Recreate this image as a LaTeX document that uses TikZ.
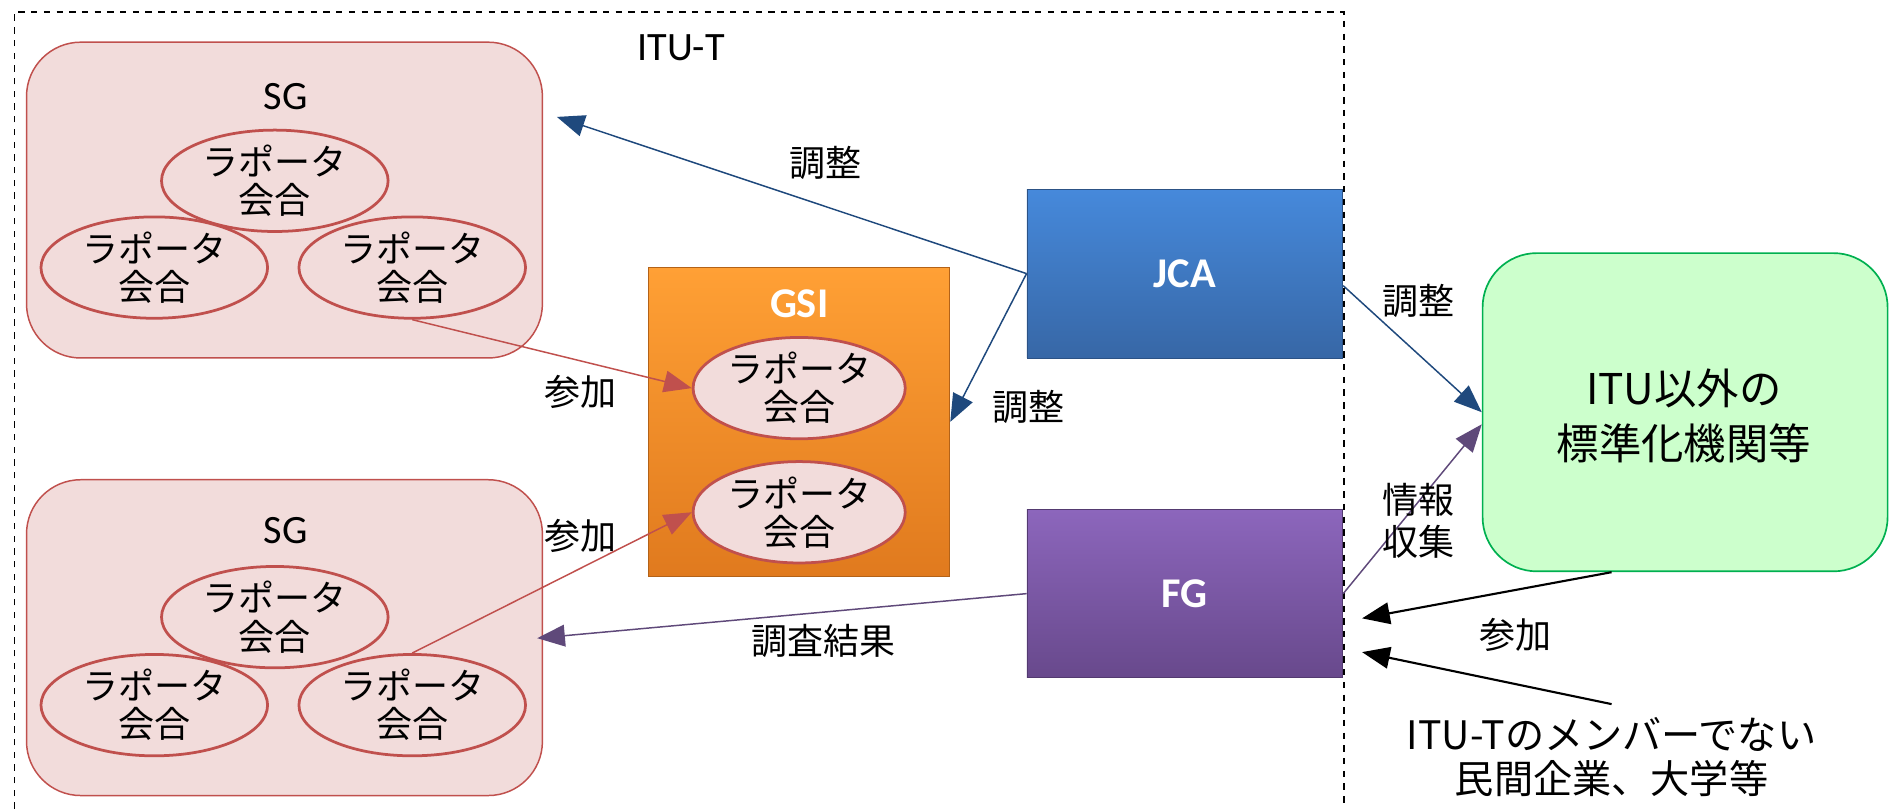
\documentclass[tikz,border=0pt]{standalone}
\usepackage{fontspec}
\setmainfont{Carlito}
\newfontfamily\jp{Noto Sans CJK JP}
\usetikzlibrary{shapes.geometric,arrows.meta,calc}
\definecolor{sgfill}{HTML}{F2DCDB}
\definecolor{sgline}{HTML}{C0504D}
\definecolor{gsitop}{HTML}{FFA035}
\definecolor{gsibot}{HTML}{E07A1E}
\definecolor{jcatop}{HTML}{4689DB}
\definecolor{jcabot}{HTML}{3767A6}
\definecolor{fgtop}{HTML}{8C66BC}
\definecolor{fgbot}{HTML}{68498C}
\definecolor{orgfill}{HTML}{CCFFCC}
\definecolor{orgline}{HTML}{00B050}
\definecolor{arblue}{HTML}{1F497D}
\definecolor{arpurple}{HTML}{5F497A}
\tikzset{
  sgbox/.style={draw=sgline,fill=sgfill,line width=0.7pt,rounded corners=0.9cm,minimum width=8.56cm,minimum height=5.24cm},
  rap/.style={ellipse,draw=sgline,fill=sgfill,line width=1.3pt,minimum width=3.76cm,minimum height=1.42cm,inner sep=0pt,align=center,font=\jp\fontsize{17}{18}\selectfont},
  wg/.style={minimum width=5.24cm,draw=#1!80!black,line width=0.4pt},
  wgname/.style={text=white,font=\bfseries\fontsize{20}{22}\selectfont},
  lbl/.style={align=center,font=\jp\fontsize{17}{20}\selectfont},
  ttl/.style={font=\fontsize{19}{21}\selectfont},
  tip/.style={-{Triangle[length=0.46cm,width=0.36cm]}},
}
\begin{document}
\begin{tikzpicture}
\useasboundingbox (0,0) rectangle (31.36,13.42);
% ITU-T frame
\draw[dashed,line width=0.8pt] (0.24,0) |- (22.3,13.22) -- (22.3,0);
\node[ttl] (itut) at (11.3,12.62) {ITU-T};
% study groups
\node[sgbox] (sg1) at (4.72,10.1) {};
\node[ttl] (sg1t) at (4.74,11.82) {SG};
\node[rap] (s1a) at (4.56,10.42) {ラポータ\\会合};
\node[rap] (s1b) at (2.56,8.98) {ラポータ\\会合};
\node[rap] (s1c) at (6.84,8.98) {ラポータ\\会合};
\node[sgbox] (sg2) at (4.72,2.84) {};
\node[ttl] (sg2t) at (4.74,4.62) {SG};
\node[rap] (s2a) at (4.56,3.18) {ラポータ\\会合};
\node[rap] (s2b) at (2.56,1.72) {ラポータ\\会合};
\node[rap] (s2c) at (6.84,1.72) {ラポータ\\会合};
% GSI
\node[wg=gsibot,top color=gsitop,bottom color=gsibot,minimum width=5cm,minimum height=5.12cm] (gsi) at (13.26,6.42) {};
\node[wgname] (gsit) at (13.26,8.38) {GSI};
\node[rap,minimum width=3.52cm,minimum height=1.48cm] (g1) at (13.26,6.98) {ラポータ\\会合};
\node[rap,minimum width=3.52cm,minimum height=1.48cm] (g2) at (13.26,4.92) {ラポータ\\会合};
% JCA, FG
\node[wg=jcabot,top color=jcatop,bottom color=jcabot,minimum height=2.8cm] (jca) at (19.66,8.88) {};
\node[wgname] at (jca) {JCA};
\node[wg=fgbot,top color=fgtop,bottom color=fgbot,minimum height=2.78cm] (fg) at (19.66,3.57) {};
\node[wgname] at (fg) {FG};
% outside bodies
\node[draw=orgline,fill=orgfill,line width=0.8pt,rounded corners=0.9cm,minimum width=6.72cm,minimum height=5.28cm] (org) at (27.96,6.58) {};
\node[lbl,font=\jp\fontsize{20}{26}\selectfont] (orgt) at (27.94,6.52) {ITU以外の\\標準化機関等};
\node[lbl,font=\jp\fontsize{18.5}{20.5}\selectfont] (others) at (26.74,0.86) {ITU-Tのメンバーでない\\民間企業、大学等};
\coordinate (sgin) at (9.24,11.48);
\coordinate (fgin1) at (22.6,3.16);
\coordinate (fgin2) at (22.6,2.6);
% arrows
\draw[tip,draw=arblue,fill=arblue,line width=0.7pt] (jca.west) -- (sgin);
\draw[tip,draw=arblue,fill=arblue,line width=0.7pt] (jca.west) -- (gsi.east);
\draw[tip,draw=arblue,fill=arblue,line width=0.7pt] ($(jca.east)+(0,-0.2)$) -- (org.west);
\draw[tip,draw=arpurple,fill=arpurple,line width=0.7pt] (fg.east) -- ($(org.west)+(0,-0.2)$);
\draw[tip,draw=arpurple,fill=arpurple,line width=0.7pt,shorten >=-0.1cm] (fg.west) -- (sg2.east);
\draw[tip,draw=sgline,fill=sgline,line width=0.7pt] (s1c.south) -- (g1.west);
\draw[tip,draw=sgline,fill=sgline,line width=0.7pt] (s2c.north) -- (g2.west);
\draw[tip,line width=1pt] ($(org.south)+(-1.22,0)$) -- (fgin1);
\draw[tip,line width=1pt] ($(others.north)+(0,0.1)$) -- (fgin2);
% labels
\node[lbl] (l1) at (13.7,10.72) {調整};
\node[lbl] (l2) at (17.06,6.66) {調整};
\node[lbl] (l3) at (23.54,8.42) {調整};
\node[lbl] (l4) at (23.54,4.78) {情報\\収集};
\node[lbl] (l5) at (13.66,2.78) {調査結果};
\node[lbl] (l6) at (9.64,6.92) {参加};
\node[lbl] (l7) at (9.64,4.52) {参加};
\node[lbl] (l8) at (25.14,2.88) {参加};
\end{tikzpicture}
\end{document}
